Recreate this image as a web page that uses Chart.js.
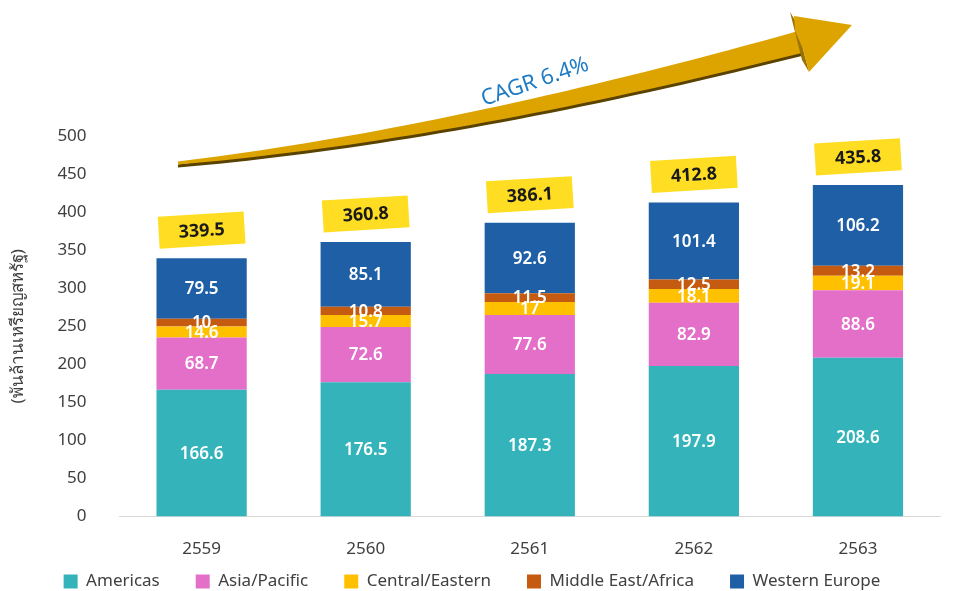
<!DOCTYPE html>
<html>
<head>
<meta charset="utf-8">
<script src="https://cdn.jsdelivr.net/npm/chart.js@4.4.1/dist/chart.umd.min.js"></script>
<style>
  html, body { margin: 0; padding: 0; background: #fff; }
  #wrap { width: 954px; height: 591px; }
</style>
</head>
<body>
<div id="wrap"><canvas id="myChart"></canvas></div>
<script>
// data
var years = ["2559", "2560", "2561", "2562", "2563"];
var americas = [166.6, 176.5, 187.3, 197.9, 208.6];
var asiaPacific = [68.7, 72.6, 77.6, 82.9, 88.6];
var centralEastern = [14.6, 15.7, 17, 18.1, 19.1];
var middleEastAfrica = [10, 10.8, 11.5, 12.5, 13.2];
var westernEurope = [79.5, 85.1, 92.6, 101.4, 106.2];
var totals = [339.5, 360.8, 386.1, 412.8, 435.8];
var cagrText = "CAGR 6.4%";

var fontFamily = "'Noto Sans', 'DejaVu Sans', sans-serif";
var legendShrink = 36;

// legend keeps wide item spacing but takes less height
var compactLegend = {
    id: 'compactLegend',
    afterInit: function (chart) {
        var lg = chart.legend;
        if (!lg) return;
        var origFit = lg.fit, origDraw = lg.draw;
        lg.fit = function () {
            origFit.apply(this, arguments);
            this.height -= legendShrink;
        };
        lg.draw = function () {
            this.top -= legendShrink;
            this.height += legendShrink;
            origDraw.apply(this, arguments);
            this.top += legendShrink;
            this.height -= legendShrink;
        };
    }
};

// white value labels inside each segment
var segmentLabels = {
    id: 'segmentLabels',
    afterDatasetsDraw: function (chart) {
        var ctx = chart.ctx;
        ctx.save();
        ctx.fillStyle = '#ffffff';
        ctx.font = '600 17px ' + fontFamily;
        ctx.textAlign = 'center';
        ctx.textBaseline = 'middle';
        chart.data.datasets.forEach(function (ds, i) {
            var meta = chart.getDatasetMeta(i);
            meta.data.forEach(function (bar, j) {
                var yMid = (bar.y + bar.base) / 2;
                ctx.fillText(String(ds.data[j]), bar.x, yMid + 1);
            });
        });
        ctx.restore();
    }
};

// yellow tilted boxes with totals + growth arrow
var totalsAndArrow = {
    id: 'totalsAndArrow',
    afterDraw: function (chart) {
        var ctx = chart.ctx;
        var xs = chart.scales.x, ys = chart.scales.y;
        ctx.save();
        totals.forEach(function (t, j) {
            var cx = xs.getPixelForValue(j);
            var cy = ys.getPixelForValue(t) - 28;
            ctx.save();
            ctx.translate(cx, cy);
            ctx.rotate(-0.06);
            ctx.fillStyle = '#FFDD22';
            ctx.fillRect(-43, -16, 86, 32);
            ctx.fillStyle = '#1a1a1a';
            ctx.font = 'bold 18px ' + fontFamily;
            ctx.textAlign = 'center';
            ctx.textBaseline = 'middle';
            ctx.fillText(t.toFixed(1), 0, 1);
            ctx.restore();
        });

        // curved arrow (decoration)
        var p0 = {x: 178, y: 163}, c = {x: 450, y: 135}, p2 = {x: 800, y: 42};
        function pt(t) {
            var a = (1 - t) * (1 - t), b = 2 * (1 - t) * t, d = t * t;
            return {x: a * p0.x + b * c.x + d * p2.x, y: a * p0.y + b * c.y + d * p2.y};
        }
        function tan(t) {
            var dx = 2 * (1 - t) * (c.x - p0.x) + 2 * t * (p2.x - c.x);
            var dy = 2 * (1 - t) * (c.y - p0.y) + 2 * t * (p2.y - c.y);
            var l = Math.sqrt(dx * dx + dy * dy);
            return {x: dx / l, y: dy / l};
        }
        var top = [], bot = [];
        for (var k = 0; k <= 40; k++) {
            var t = k / 40;
            var p = pt(t), tg = tan(t);
            var w = 1.5 + 9.5 * t;
            top.push({x: p.x + tg.y * w, y: p.y - tg.x * w});
            bot.push({x: p.x - tg.y * w, y: p.y + tg.x * w});
        }
        function shaft(dy) {
            ctx.beginPath();
            ctx.moveTo(top[0].x, top[0].y + dy);
            top.forEach(function (q) { ctx.lineTo(q.x, q.y + dy); });
            for (var m = bot.length - 1; m >= 0; m--) ctx.lineTo(bot[m].x, bot[m].y + dy);
            ctx.closePath();
            ctx.fill();
        }
        ctx.fillStyle = '#5a4200';
        shaft(3);
        ctx.fillStyle = '#DDA400';
        shaft(0);
        // head
        ctx.fillStyle = '#9a7200';
        ctx.beginPath();
        ctx.moveTo(790, 12); ctx.lineTo(796, 22); ctx.lineTo(809, 72); ctx.lineTo(802, 60);
        ctx.closePath(); ctx.fill();
        ctx.fillStyle = '#DDA400';
        ctx.beginPath();
        ctx.moveTo(794, 16); ctx.lineTo(852, 25); ctx.lineTo(809, 72); ctx.lineTo(803, 49);
        ctx.lineTo(795, 31);
        ctx.closePath(); ctx.fill();

        // CAGR text
        ctx.translate(535, 82);
        ctx.rotate(-0.33);
        ctx.fillStyle = '#1F7BC4';
        ctx.font = '22px ' + fontFamily;
        ctx.textAlign = 'center';
        ctx.textBaseline = 'middle';
        ctx.fillText(cagrText, 0, 0);
        ctx.restore();
    }
};

function createChart() {
    var ctx = document.getElementById('myChart').getContext('2d');
    var common = { barPercentage: 0.55, categoryPercentage: 1.0, borderWidth: 0 };
    new Chart(ctx, {
        type: 'bar',
        data: {
            labels: years,
            datasets: [
                Object.assign({ label: 'Americas', data: americas, backgroundColor: '#35B3BA' }, common),
                Object.assign({ label: 'Asia/Pacific', data: asiaPacific, backgroundColor: '#E46FC9' }, common),
                Object.assign({ label: 'Central/Eastern', data: centralEastern, backgroundColor: '#FFC000' }, common),
                Object.assign({ label: 'Middle East/Africa', data: middleEastAfrica, backgroundColor: '#C55A11' }, common),
                Object.assign({ label: 'Western Europe', data: westernEurope, backgroundColor: '#1F5FA6' }, common)
            ]
        },
        options: {
            responsive: true,
            maintainAspectRatio: false,
            animation: false,
            layout: { padding: { top: 136, right: 14, left: 4, bottom: -9 } },
            plugins: {
                legend: {
                    position: 'bottom',
                    labels: {
                        boxWidth: 14, boxHeight: 14, padding: 36,
                        color: '#404040',
                        font: { family: fontFamily, size: 17 }
                    }
                },
                tooltip: { enabled: false }
            },
            scales: {
                x: {
                    stacked: true,
                    grid: { display: false },
                    border: { color: '#d9d9d9' },
                    ticks: { color: '#404040', font: { family: fontFamily, size: 17 }, padding: 14 }
                },
                y: {
                    stacked: true,
                    min: 0, max: 500,
                    grid: { display: false },
                    border: { display: false },
                    ticks: { stepSize: 50, color: '#404040', font: { family: fontFamily, size: 17 }, padding: 25 },
                    title: {
                        display: true,
                        text: '(พันล้านเหรียญสหรัฐ)',
                        color: '#404040',
                        font: { family: fontFamily, size: 17 }
                    }
                }
            }
        },
        plugins: [compactLegend, segmentLabels, totalsAndArrow]
    });
}

createChart();
</script>
</body>
</html>
